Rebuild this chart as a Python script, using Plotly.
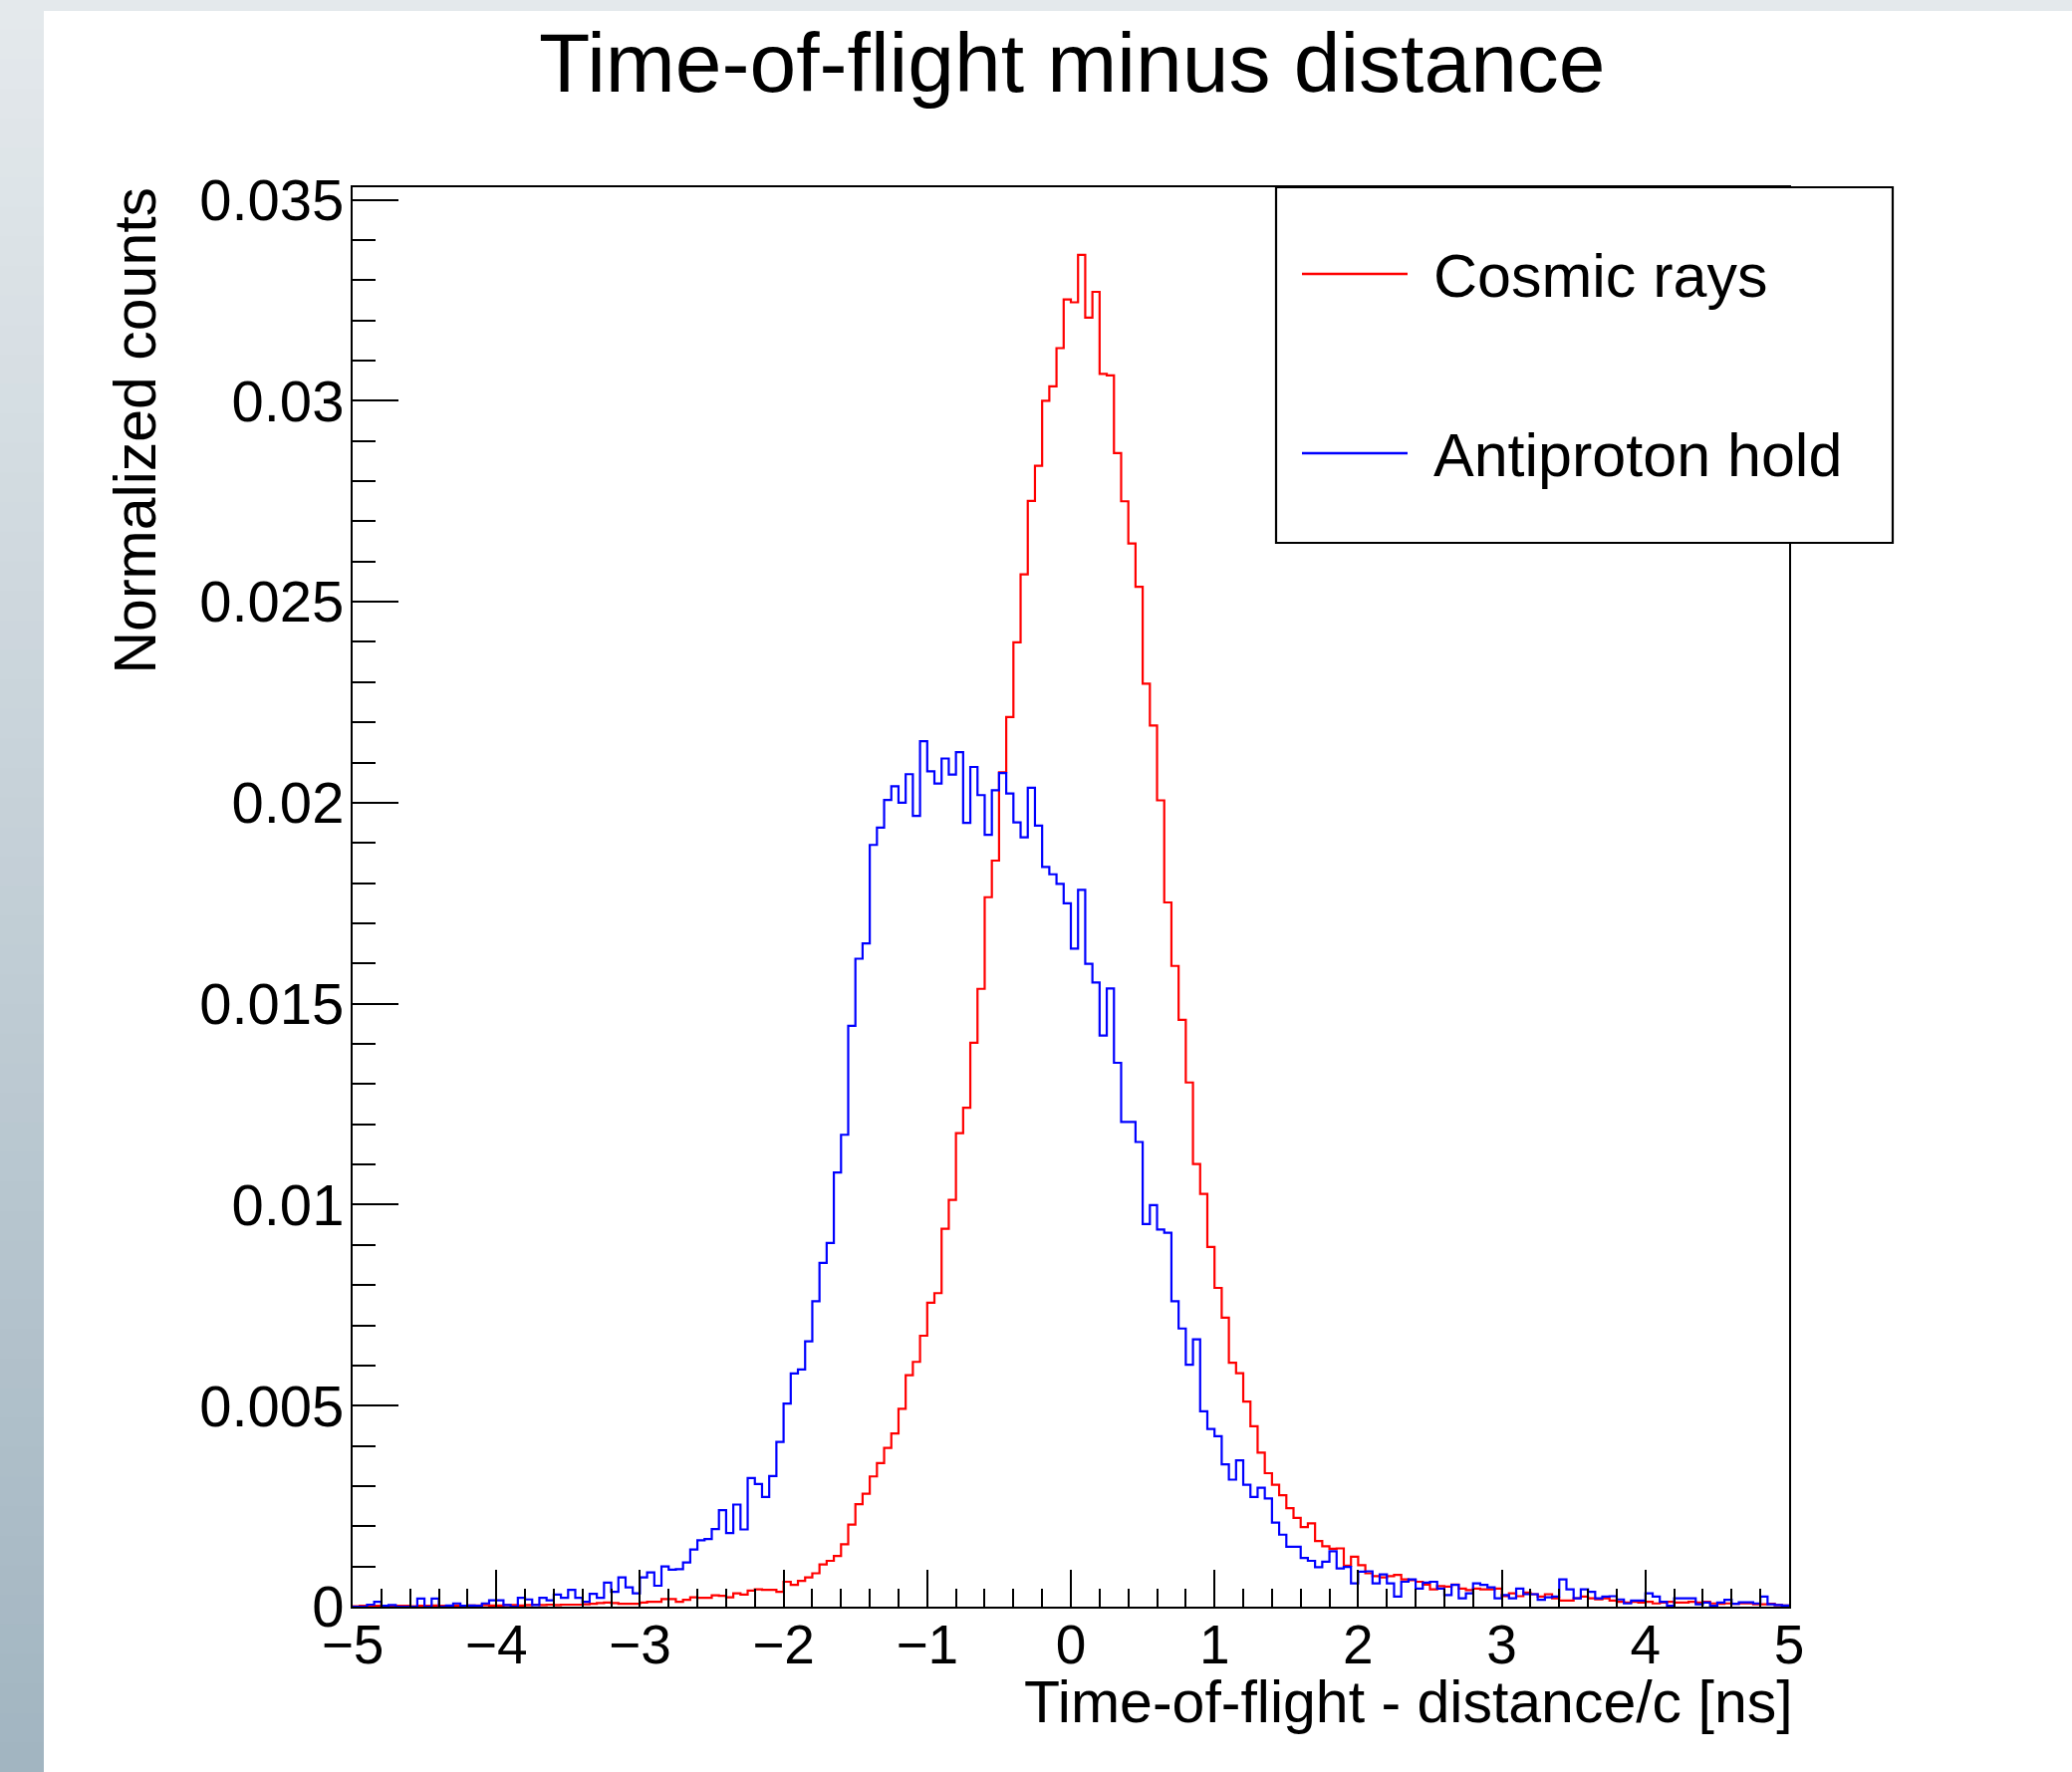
import plotly.graph_objects as go

# ---------------- data ----------------
bin_low = -5.0
bin_width = 0.05

cosmic_rays = [
    0.00001, 0.00002, 0.00001, 0.00002, 0.00002, 0.00001, 0.00002, 0.00002, 0.00001, 0.00002,
    0.00002, 0.00003, 0.00002, 0.00002, 0.00003, 0.00002, 0.00003, 0.00003, 0.00004, 0.00003,
    0.00003, 0.00004, 0.00004, 0.00003, 0.00004, 0.00005, 0.00004, 0.00005, 0.00004, 0.00005,
    0.00005, 0.00005, 0.00006, 0.00007, 0.00009, 0.00010, 0.00009, 0.00007, 0.00007, 0.00007,
    0.00010, 0.00012, 0.00012, 0.00019, 0.00019, 0.00012, 0.00017, 0.00023, 0.00022, 0.00022,
    0.00028, 0.00027, 0.00023, 0.00033, 0.00030, 0.00040, 0.00043, 0.00042, 0.00042, 0.00037,
    0.00062, 0.00054, 0.00064, 0.00073, 0.00083, 0.00105, 0.00114, 0.00126, 0.00155, 0.00204,
    0.00255, 0.00281, 0.00324, 0.00357, 0.00395, 0.00431, 0.00492, 0.00576, 0.00609, 0.00674,
    0.00756, 0.00780, 0.00940, 0.01012, 0.01178, 0.01241, 0.01403, 0.01537, 0.01765, 0.01856,
    0.02076, 0.02213, 0.02399, 0.02568, 0.02751, 0.02838, 0.03000, 0.03036, 0.03131, 0.03252,
    0.03245, 0.03363, 0.03207, 0.03271, 0.03067, 0.03063, 0.02870, 0.02750, 0.02645, 0.02537,
    0.02296, 0.02192, 0.02006, 0.01752, 0.01594, 0.01460, 0.01304, 0.01101, 0.01027, 0.00895,
    0.00793, 0.00719, 0.00607, 0.00581, 0.00510, 0.00449, 0.00383, 0.00332, 0.00303, 0.00277,
    0.00245, 0.00221, 0.00198, 0.00207, 0.00163, 0.00150, 0.00144, 0.00145, 0.00102, 0.00124,
    0.00103, 0.00083, 0.00076, 0.00073, 0.00076, 0.00079, 0.00068, 0.00066, 0.00062, 0.00055,
    0.00043, 0.00051, 0.00050, 0.00055, 0.00045, 0.00041, 0.00045, 0.00043, 0.00043, 0.00045,
    0.00026, 0.00033, 0.00026, 0.00035, 0.00031, 0.00025, 0.00031, 0.00021, 0.00015, 0.00015,
    0.00021, 0.00025, 0.00021, 0.00018, 0.00021, 0.00015, 0.00012, 0.00010, 0.00012, 0.00010,
    0.00012, 0.00008, 0.00010, 0.00012, 0.00010, 0.00010, 0.00012, 0.00010, 0.00012, 0.00008,
    0.00007, 0.00008, 0.00007, 0.00008, 0.00008, 0.00006, 0.00006, 0.00007, 0.00004, 0.00003,
]

antiproton_hold = [
    0.00000, 0.00000, 0.00005, 0.00012, 0.00002, 0.00004, 0.00000, 0.00000, 0.00000, 0.00020,
    0.00000, 0.00020, 0.00000, 0.00003, 0.00008, 0.00002, 0.00003, 0.00002, 0.00008, 0.00016,
    0.00016, 0.00004, 0.00000, 0.00022, 0.00018, 0.00004, 0.00022, 0.00016, 0.00030, 0.00022,
    0.00042, 0.00022, 0.00012, 0.00032, 0.00022, 0.00060, 0.00037, 0.00073, 0.00048, 0.00033,
    0.00073, 0.00085, 0.00052, 0.00100, 0.00092, 0.00093, 0.00110, 0.00142, 0.00165, 0.00168,
    0.00193, 0.00240, 0.00183, 0.00254, 0.00192, 0.00320, 0.00305, 0.00273, 0.00325, 0.00410,
    0.00505, 0.00580, 0.00590, 0.00660, 0.00760, 0.00855, 0.00905, 0.01080, 0.01174, 0.01445,
    0.01612, 0.01650, 0.01895, 0.01938, 0.02007, 0.02041, 0.02000, 0.02071, 0.01967, 0.02153,
    0.02078, 0.02048, 0.02110, 0.02070, 0.02126, 0.01950, 0.02089, 0.02019, 0.01920, 0.02031,
    0.02074, 0.02023, 0.01951, 0.01914, 0.02037, 0.01943, 0.01840, 0.01822, 0.01798, 0.01750,
    0.01637, 0.01783, 0.01599, 0.01553, 0.01421, 0.01538, 0.01353, 0.01206, 0.01206, 0.01156,
    0.00952, 0.00999, 0.00938, 0.00930, 0.00760, 0.00692, 0.00602, 0.00665, 0.00486, 0.00442,
    0.00424, 0.00354, 0.00316, 0.00364, 0.00303, 0.00273, 0.00296, 0.00269, 0.00209, 0.00179,
    0.00149, 0.00149, 0.00121, 0.00114, 0.00098, 0.00112, 0.00138, 0.00095, 0.00099, 0.00058,
    0.00087, 0.00088, 0.00058, 0.00080, 0.00058, 0.00025, 0.00062, 0.00068, 0.00045, 0.00060,
    0.00062, 0.00045, 0.00029, 0.00054, 0.00021, 0.00033, 0.00058, 0.00054, 0.00048, 0.00021,
    0.00029, 0.00021, 0.00045, 0.00031, 0.00031, 0.00017, 0.00023, 0.00025, 0.00068, 0.00043,
    0.00021, 0.00043, 0.00037, 0.00021, 0.00025, 0.00026, 0.00018, 0.00008, 0.00015, 0.00015,
    0.00033, 0.00025, 0.00012, 0.00002, 0.00021, 0.00021, 0.00021, 0.00006, 0.00010, 0.00002,
    0.00010, 0.00017, 0.00007, 0.00011, 0.00011, 0.00008, 0.00025, 0.00006, 0.00004, 0.00003,
]

series_names = ["Cosmic rays", "Antiproton hold"]
x_tick_vals = [-5, -4, -3, -2, -1, 0, 1, 2, 3, 4, 5]
x_tick_text = ["\u22125", "\u22124", "\u22123", "\u22122", "\u22121", "0", "1", "2", "3", "4", "5"]
y_tick_vals = [0, 0.005, 0.01, 0.015, 0.02, 0.025, 0.03, 0.035]
y_tick_text = ["0", "0.005", "0.01", "0.015", "0.02", "0.025", "0.03", "0.035"]

title_text = "Time-of-flight minus distance"
x_title = "Time-of-flight - distance/c [ns]"
y_title = "Normalized counts"

# ---------------- geometry ----------------
W, H = 2080, 1779
L, R, T, B = 354, 1796, 188, 1613
FONT = "Liberation Sans, Arial, Helvetica, sans-serif"


def px(x):
    return (x - L) / (R - L)


def py(y):
    return (B - y) / (B - T)


n_bins = len(cosmic_rays)
edges = [bin_low + i * bin_width for i in range(n_bins + 1)]


def step_xy(vals):
    return edges, list(vals) + [vals[-1]]


fig = go.Figure()
colors = ["#ff0000", "#0000ff"]
for name, vals, col in zip(series_names, [cosmic_rays, antiproton_hold], colors):
    xs, ys = step_xy(vals)
    fig.add_trace(go.Scatter(x=xs, y=ys, mode="lines", name=name,
                             line=dict(color=col, width=2.2, shape="hv"),
                             showlegend=False, hoverinfo="skip"))

y_max = 1.05 * max(max(cosmic_rays), max(antiproton_hold))

shapes = []
# background gradient strip on the left and light strip at the top
n_band = 60
c_top = (228, 233, 236)
c_bot = (162, 181, 193)
for i in range(n_band):
    t = i / (n_band - 1)
    c = tuple(int(round(a + (b - a) * t)) for a, b in zip(c_top, c_bot))
    y0 = H * i / n_band
    y1 = H * (i + 1) / n_band + 1
    shapes.append(dict(type="rect", xref="paper", yref="paper",
                       x0=px(0), x1=px(44), y0=py(y1), y1=py(y0),
                       fillcolor="rgb(%d,%d,%d)" % c, line=dict(width=0), layer="below"))
shapes.append(dict(type="rect", xref="paper", yref="paper",
                   x0=px(44), x1=px(W), y0=py(11), y1=py(0),
                   fillcolor="rgb(%d,%d,%d)" % c_top, line=dict(width=0), layer="below"))

# legend box
shapes.append(dict(type="rect", xref="paper", yref="paper",
                   x0=px(1281), x1=px(1900), y0=py(545), y1=py(188),
                   fillcolor="white", line=dict(color="black", width=2.2), layer="above"))
leg_y = [275, 455]
for col, yy in zip(colors, leg_y):
    shapes.append(dict(type="line", xref="paper", yref="paper",
                       x0=px(1307), x1=px(1413), y0=py(yy), y1=py(yy),
                       line=dict(color=col, width=2.5), layer="above"))

annotations = []
for name, yy in zip(series_names, leg_y):
    annotations.append(dict(text=name, xref="paper", yref="paper", x=px(1437), y=py(yy + 2),
                            xanchor="left", yanchor="middle", showarrow=False,
                            font=dict(family=FONT, size=61, color="black")))
annotations.append(dict(text=title_text, xref="paper", yref="paper", x=px(1076), y=py(63),
                        xanchor="center", yanchor="middle", showarrow=False,
                        font=dict(family=FONT, size=84, color="black")))
annotations.append(dict(text=x_title, xref="paper", yref="paper", x=px(1802), y=py(1709),
                        xanchor="right", yanchor="middle", showarrow=False,
                        font=dict(family=FONT, size=59, color="black")))
annotations.append(dict(text=y_title, xref="paper", yref="paper", x=px(135), y=py(186),
                        xanchor="center", yanchor="top", textangle=-90, showarrow=False,
                        font=dict(family=FONT, size=59, color="black")))

axis_common = dict(showgrid=False, zeroline=False, showline=True, linecolor="black",
                   linewidth=2, mirror=True, ticks="inside", tickcolor="black",
                   tickwidth=2, automargin=False)

fig.update_layout(
    width=W, height=H,
    margin=dict(l=L, r=W - R, t=T, b=H - B, pad=0),
    paper_bgcolor="white", plot_bgcolor="white",
    shapes=shapes, annotations=annotations,
    xaxis=dict(range=[edges[0], edges[-1]], tickmode="array", tickvals=x_tick_vals,
               ticktext=x_tick_text, ticklen=37, ticklabelstandoff=-11,
               tickfont=dict(family=FONT, size=55, color="black"),
               minor=dict(ticks="inside", ticklen=18, tickwidth=2, tickcolor="black",
                          dtick=0.2, tick0=-5, showgrid=False),
               **axis_common),
    yaxis=dict(range=[0, y_max], tickmode="array", tickvals=y_tick_vals,
               ticktext=y_tick_text, ticklen=46, ticklabelstandoff=-5,
               tickfont=dict(family=FONT, size=58, color="black"),
               minor=dict(ticks="inside", ticklen=23, tickwidth=2, tickcolor="black",
                          dtick=0.001, tick0=0, showgrid=False),
               **axis_common),
)

fig.write_html("out.html", config={"displayModeBar": False},
               post_script="document.body.style.margin='0px';")
